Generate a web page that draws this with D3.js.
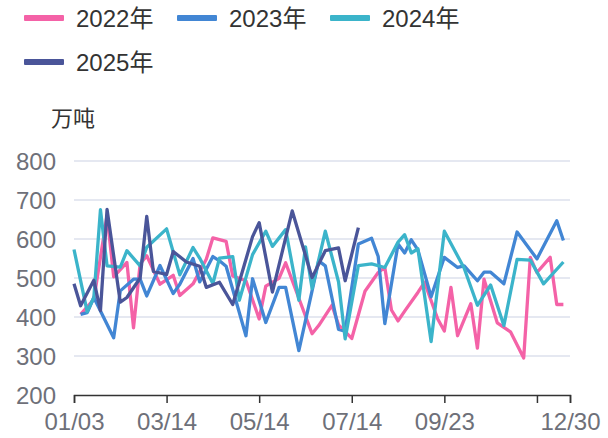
<!DOCTYPE html>
<html>
<head>
<meta charset="utf-8">
<script src="https://cdn.jsdelivr.net/npm/d3@7"></script>
<style>
  body { margin: 0; background: #fff; }
  svg { display: block; }
  text { font-family: "Liberation Sans", "Noto Sans CJK SC", sans-serif; }
</style>
</head>
<body>
<svg id="chart" width="608" height="438"></svg>
<script>
// Category axis: union of reporting dates (MM/DD)
const categories = [
  "01/03","01/07","01/12","01/17","01/21","01/26","01/31","02/04","02/09","02/14",
  "02/21","02/28","03/04","03/09","03/14","03/18","03/22","03/26","03/31","04/04",
  "04/08","04/13","04/17","04/21","04/26","04/30","05/05","05/09","05/14","05/18",
  "05/22","05/27","05/31","06/04","06/09","06/13","06/17","06/22","06/26","07/01",
  "07/05","07/09","07/14","07/19","07/24","07/29","08/03","08/08","08/13","08/18",
  "08/23","08/28","09/02","09/07","09/12","09/18","09/23","09/28","10/03","10/09",
  "10/14","10/19","10/24","10/30","11/04","11/09","11/14","11/19","11/24","11/29",
  "12/04","12/09","12/14","12/19","12/25","12/30"
];

const xTickDates = ["01/03","03/14","05/14","07/14","09/23","12/04","12/30"];
const xLabelDates = ["01/03","03/14","05/14","07/14","09/23","12/30"];
const yTicks = [200, 300, 400, 500, 600, 700, 800];
const unitLabel = "万吨";

const seriesNames = ["2022年", "2023年", "2024年", "2025年"];
const seriesColors = ["#f462a7", "#4286d4", "#3bb4ca", "#4a5599"];

// Values per category (null = no report on that date)
const v2022 = [
  null,407,null,445,null,661,503,null,540,372,
  536,557,null,484,null,507,455,null,485,null,
  548,603,null,594,505,null,493,null,395,479,
  null,499,539,null,null,null,357,378,null,430,
  380,null,345,null,466,null,514,527,418,390,
  415,null,463,489,null,395,364,476,352,null,
  434,320,497,null,385,null,362,null,295,553,
  514,null,553,432,432,null
];
const v2023 = [
  null,407,411,450,null,null,347,467,null,497,
  497,454,null,532,null,460,484,null,550,490,
  null,555,544,530,null,null,352,498,null,386,
  null,476,476,null,314,null,null,544,531,null,
  368,364,null,587,null,602,555,383,null,587,
  564,598,572,null,452,null,553,null,527,531,
  null,493,515,515,null,485,null,618,null,null,
  549,null,null,647,596,null
];
const v2024 = [
  573,null,413,450,675,531,null,528,570,null,
  531,579,null,null,626,null,508,null,578,551,
  null,486,551,null,555,443,null,560,null,620,
  581,null,624,null,443,580,473,null,620,null,
  490,344,null,532,null,536,null,527,null,592,
  611,564,575,null,337,null,620,null,null,525,
  null,430,null,482,null,378,null,548,null,546,
  null,485,null,null,541,null
];
const v2025 = [
  485,429,null,494,416,676,null,438,450,null,
  500,658,517,null,509,568,null,541,null,530,
  476,null,489,null,432,null,null,606,642,null,
  464,null,null,672,null,null,501,null,570,null,
  577,493,null,629
];
const seriesValues = [v2022, v2023, v2024, v2025];

const svg = d3.select("#chart");
const plot = { left: 74, right: 570, top: 161, bottom: 395 };

const x = d3.scalePoint().domain(categories).range([plot.left, plot.right]);
const y = d3.scaleLinear().domain([200, 800]).range([plot.bottom, plot.top]);

// Horizontal grid lines
svg.append("g")
  .selectAll("line")
  .data(yTicks.filter(d => d > 200))
  .join("line")
  .attr("x1", plot.left).attr("x2", plot.right)
  .attr("y1", d => y(d)).attr("y2", d => y(d))
  .attr("stroke", "#dde0ec").attr("stroke-width", 1.5);

// Y-axis labels
svg.append("g")
  .selectAll("text")
  .data(yTicks)
  .join("text")
  .attr("x", 56).attr("y", d => y(d))
  .attr("dy", "0.36em")
  .attr("text-anchor", "end")
  .attr("fill", "#6e7079")
  .attr("font-size", 24)
  .text(d => d);

// Unit name above the y axis
svg.append("text")
  .attr("x", 73).attr("y", 118)
  .attr("dy", "0.36em")
  .attr("text-anchor", "middle")
  .attr("fill", "#333")
  .attr("font-size", 22)
  .text(unitLabel);

// X axis
const xAxis = d3.axisBottom(x)
  .tickValues(xTickDates)
  .tickSize(8)
  .tickPadding(10)
  .tickFormat(d => xLabelDates.includes(d) ? d : "");

const gx = svg.append("g")
  .attr("transform", `translate(0,${plot.bottom})`)
  .call(xAxis);
gx.select(".domain").attr("stroke", "#333").attr("stroke-width", 1.5);
gx.selectAll(".tick line").attr("stroke", "#333").attr("stroke-width", 1.5);
gx.selectAll(".tick text")
  .attr("fill", "#6e7079")
  .attr("font-size", 24)
  .attr("font-family", "\"Liberation Sans\", \"Noto Sans CJK SC\", sans-serif");

// Series lines (gaps between reports are bridged)
const line = d3.line()
  .x(d => x(d.date))
  .y(d => y(d.value));

seriesValues.forEach((vals, i) => {
  const pts = vals
    .map((v, k) => ({ date: categories[k], value: v }))
    .filter(d => d.value != null);
  svg.append("path")
    .datum(pts)
    .attr("fill", "none")
    .attr("stroke", seriesColors[i])
    .attr("stroke-width", 3.3)
    .attr("stroke-linejoin", "round")
    .attr("d", line);
});

// Legend
const legendPos = [
  { x: 24, y: 18 }, { x: 177, y: 18 }, { x: 330, y: 18 }, { x: 24, y: 62 }
];
const legend = svg.append("g")
  .selectAll("g")
  .data(seriesNames)
  .join("g")
  .attr("transform", (d, i) => `translate(${legendPos[i].x},${legendPos[i].y})`);
legend.append("rect")
  .attr("x", 0).attr("y", -3)
  .attr("width", 40).attr("height", 6)
  .attr("rx", 1)
  .attr("fill", (d, i) => seriesColors[i]);
legend.append("text")
  .attr("x", 52).attr("y", 0)
  .attr("dy", "0.36em")
  .attr("fill", "#333")
  .attr("font-size", 24)
  .text(d => d);
</script>
</body>
</html>
